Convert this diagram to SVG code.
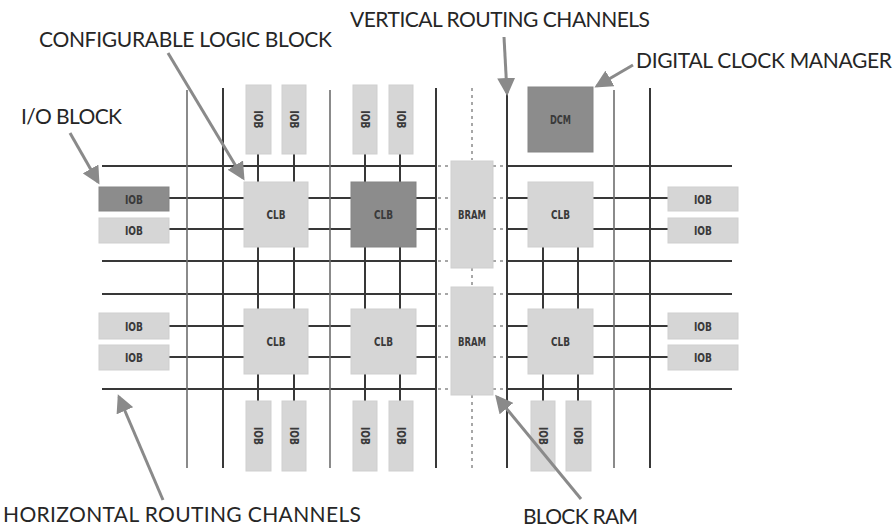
<svg xmlns="http://www.w3.org/2000/svg" width="895" height="529" viewBox="0 0 895 529">
<style>
.lt{fill:#d6d6d6;stroke:#cfcfcf;stroke-width:1}
.dk{fill:#8c8c8c;stroke:#858585;stroke-width:1}
.bl{font-family:"DejaVu Sans Condensed","DejaVu Sans",sans-serif;font-weight:bold;font-size:13px;fill:#3a3a3a;text-anchor:middle;dominant-baseline:central}
.lab{font-family:Lato,"Liberation Sans",sans-serif;font-size:21px;fill:#262626}
.w{stroke:#383838;stroke-width:2;fill:none}
.wl{stroke:#6e6e6e;stroke-width:1.6;fill:none}
.dd{stroke:#8a8a8a;stroke-width:1.5;stroke-dasharray:3 4;fill:none}
.ar{stroke:#8a8a8a;stroke-width:3;fill:none;marker-end:url(#ah)}
</style>
<defs>
<marker id="ah" markerWidth="6" markerHeight="6" refX="5" refY="3" orient="auto" markerUnits="strokeWidth">
<path d="M0,0 L6,3 L0,6 z" fill="#8a8a8a"/>
</marker>
</defs>
<rect width="895" height="529" fill="#fff"/>
<g id="wires">
<path class="w" d="M102,166H436M507,166H732M102,261H436M507,261H732M102,294H436M507,294H732M102,389H436M507,389H732"/>
<path class="w" d="M169,198H244M308,198H351M416,198H436M507,198H528M593,198H668M169,229H244M308,229H351M416,229H436M507,229H528M593,229H668"/>
<path class="w" d="M169,326H244M308,326H351M416,326H436M507,326H528M593,326H668M169,357H244M308,357H351M416,357H436M507,357H528M593,357H668"/>
<path class="dd" d="M438,166H451M438,198H451M438,229H451M438,261H451M438,294H451M438,326H451M438,357H451M438,389H451M493,166H506M493,198H506M493,229H506M493,261H506M493,294H506M493,326H506M493,357H506M493,389H506"/>
<path class="w" d="M223,88V468M436,88V468M507,88V468M650,88V468"/>
<path class="wl" d="M187,90V468M330,90V468M614,90V468"/>
<path class="w" d="M258,154V401M294,154V401M365,154V401M400,154V401M543,247V401M578,247V401"/>
<path class="dd" d="M472,88V160M472,268V287M472,395V468" stroke-dasharray="6 3 2 3"/>
</g>
<g id="iob-top-1"><rect class="lt" x="246" y="85" width="25" height="69"/><text class="bl" transform="translate(258.5,119.5) rotate(90)" textLength="18" lengthAdjust="spacingAndGlyphs">IOB</text></g>
<g id="iob-top-2"><rect class="lt" x="282" y="85" width="24" height="69"/><text class="bl" transform="translate(294,119.5) rotate(90)" textLength="18" lengthAdjust="spacingAndGlyphs">IOB</text></g>
<g id="iob-top-3"><rect class="lt" x="353" y="85" width="24" height="69"/><text class="bl" transform="translate(365,119.5) rotate(90)" textLength="18" lengthAdjust="spacingAndGlyphs">IOB</text></g>
<g id="iob-top-4"><rect class="lt" x="389" y="85" width="24" height="69"/><text class="bl" transform="translate(401,119.5) rotate(90)" textLength="18" lengthAdjust="spacingAndGlyphs">IOB</text></g>
<g id="iob-bot-1"><rect class="lt" x="246" y="401" width="25" height="70"/><text class="bl" transform="translate(258.5,436) rotate(90)" textLength="18" lengthAdjust="spacingAndGlyphs">IOB</text></g>
<g id="iob-bot-2"><rect class="lt" x="282" y="401" width="24" height="70"/><text class="bl" transform="translate(294,436) rotate(90)" textLength="18" lengthAdjust="spacingAndGlyphs">IOB</text></g>
<g id="iob-bot-3"><rect class="lt" x="353" y="401" width="24" height="70"/><text class="bl" transform="translate(365,436) rotate(90)" textLength="18" lengthAdjust="spacingAndGlyphs">IOB</text></g>
<g id="iob-bot-4"><rect class="lt" x="389" y="401" width="24" height="70"/><text class="bl" transform="translate(401,436) rotate(90)" textLength="18" lengthAdjust="spacingAndGlyphs">IOB</text></g>
<g id="iob-bot-5"><rect class="lt" x="531" y="401" width="24" height="70"/><text class="bl" transform="translate(543,436) rotate(90)" textLength="18" lengthAdjust="spacingAndGlyphs">IOB</text></g>
<g id="iob-bot-6"><rect class="lt" x="566" y="401" width="25" height="70"/><text class="bl" transform="translate(578.5,436) rotate(90)" textLength="18" lengthAdjust="spacingAndGlyphs">IOB</text></g>
<g id="iob-left-1"><rect class="dk" x="99" y="187" width="70" height="24"/><text class="bl" x="134" y="199" textLength="18" lengthAdjust="spacingAndGlyphs">IOB</text></g>
<g id="iob-left-2"><rect class="lt" x="99" y="218" width="70" height="25"/><text class="bl" x="134" y="230.5" textLength="18" lengthAdjust="spacingAndGlyphs">IOB</text></g>
<g id="iob-left-3"><rect class="lt" x="99" y="313" width="70" height="26"/><text class="bl" x="134" y="326" textLength="18" lengthAdjust="spacingAndGlyphs">IOB</text></g>
<g id="iob-left-4"><rect class="lt" x="99" y="345" width="70" height="25"/><text class="bl" x="134" y="357.5" textLength="18" lengthAdjust="spacingAndGlyphs">IOB</text></g>
<g id="iob-right-1"><rect class="lt" x="668" y="187" width="70" height="24"/><text class="bl" x="703" y="199" textLength="18" lengthAdjust="spacingAndGlyphs">IOB</text></g>
<g id="iob-right-2"><rect class="lt" x="668" y="218" width="70" height="25"/><text class="bl" x="703" y="230.5" textLength="18" lengthAdjust="spacingAndGlyphs">IOB</text></g>
<g id="iob-right-3"><rect class="lt" x="668" y="313" width="70" height="26"/><text class="bl" x="703" y="326" textLength="18" lengthAdjust="spacingAndGlyphs">IOB</text></g>
<g id="iob-right-4"><rect class="lt" x="668" y="345" width="70" height="25"/><text class="bl" x="703" y="357.5" textLength="18" lengthAdjust="spacingAndGlyphs">IOB</text></g>
<g id="clb-1"><rect class="lt" x="244" y="182" width="64" height="65"/><text class="bl" x="276" y="214.5" textLength="19" lengthAdjust="spacingAndGlyphs">CLB</text></g>
<g id="clb-2"><rect class="dk" x="351" y="182" width="65" height="65"/><text class="bl" x="383.5" y="214.5" textLength="19" lengthAdjust="spacingAndGlyphs">CLB</text></g>
<g id="clb-3"><rect class="lt" x="528" y="182" width="65" height="65"/><text class="bl" x="560.5" y="214.5" textLength="19" lengthAdjust="spacingAndGlyphs">CLB</text></g>
<g id="clb-4"><rect class="lt" x="244" y="309" width="64" height="65"/><text class="bl" x="276" y="341.5" textLength="19" lengthAdjust="spacingAndGlyphs">CLB</text></g>
<g id="clb-5"><rect class="lt" x="351" y="309" width="65" height="65"/><text class="bl" x="383.5" y="341.5" textLength="19" lengthAdjust="spacingAndGlyphs">CLB</text></g>
<g id="clb-6"><rect class="lt" x="528" y="309" width="65" height="65"/><text class="bl" x="560.5" y="341.5" textLength="19" lengthAdjust="spacingAndGlyphs">CLB</text></g>
<g id="bram-1"><rect class="lt" x="451" y="161" width="42" height="107"/><text class="bl" x="472" y="214.5" textLength="28" lengthAdjust="spacingAndGlyphs">BRAM</text></g>
<g id="bram-2"><rect class="lt" x="451" y="287" width="42" height="108"/><text class="bl" x="472" y="341.5" textLength="28" lengthAdjust="spacingAndGlyphs">BRAM</text></g>
<g id="dcm"><rect class="dk" x="528" y="87" width="65" height="65"/><text class="bl" x="560.5" y="119.5" textLength="21" lengthAdjust="spacingAndGlyphs">DCM</text></g>
<g id="labels">
<text class="lab" x="39" y="47" textLength="293">CONFIGURABLE LOGIC BLOCK</text>
<text class="lab" x="350" y="27" textLength="300">VERTICAL ROUTING CHANNELS</text>
<text class="lab" x="636" y="68" textLength="256">DIGITAL CLOCK MANAGER</text>
<text class="lab" x="21" y="124" textLength="101">I/O BLOCK</text>
<text class="lab" x="3" y="522" textLength="358">HORIZONTAL ROUTING CHANNELS</text>
<text class="lab" x="523" y="524" textLength="115">BLOCK RAM</text>
</g>
<g id="connectors">
<line class="ar" x1="168" y1="53" x2="243" y2="178"/>
<line class="ar" x1="70" y1="133" x2="98" y2="182"/>
<line class="ar" x1="504" y1="37" x2="507" y2="93"/>
<line class="ar" x1="633" y1="65" x2="597" y2="86"/>
<line class="ar" x1="163" y1="500" x2="119" y2="397"/>
<line class="ar" x1="581" y1="499" x2="497" y2="397"/>
</g>
</svg>
